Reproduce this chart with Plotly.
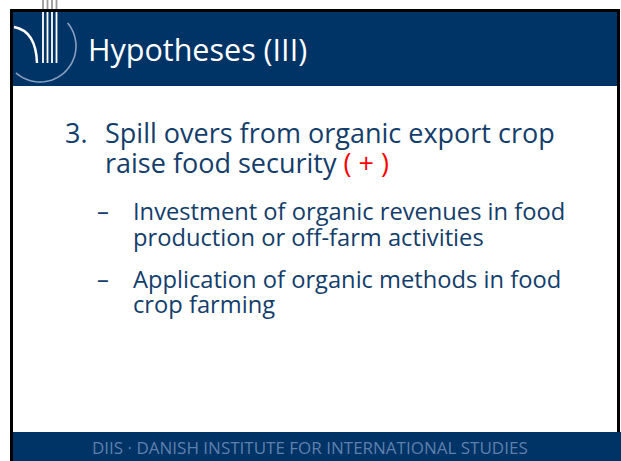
import numpy as np
import plotly.graph_objects as go

# ---- slide content ----
title_text = "Hypotheses (III)"
main_number = "3."
main_lines = ["Spill overs from organic export crop",
              "raise food security <span style='color:#ff0000'>( + )</span>"]
sub_bullet = "–"
sub_items = [["Investment of organic revenues in food",
              "production or off-farm activities"],
             ["Application of organic methods in food",
              "crop farming"]]
footer_text = "DIIS · DANISH INSTITUTE FOR INTERNATIONAL STUDIES"

# ---- style ----
W, H = 621, 461
NAVY = "#003366"
TEXT = "#133d6b"
FOOT = "#5f80ad"
FONT = "Open Sans"
MAIN_SIZE = 27
SUB_SIZE = 23.7
TITLE_SIZE = 30.5

fig = go.Figure()
shapes = []
ann = []

def rect(x0, y0, x1, y1, color):
    shapes.append(dict(type="rect", xref="x", yref="y", x0=x0, y0=y0, x1=x1, y1=y1,
                       fillcolor=color, line=dict(width=0), layer="below"))

# frame and bands
rect(13, 12, 617, 86, NAVY)
rect(13, 432, 621, 461, NAVY)
rect(10, 9, 620, 12, "#000000")
rect(10, 9, 13, 461, "#000000")
rect(617, 9, 620, 432, "#000000")

# logo: arc
th = np.radians(np.linspace(-40, 132, 40))
cx, cy, r = 40, 46, 36
pts = [(cx + r * np.cos(t), cy + r * np.sin(t)) for t in th]
pts = [(max(x, 13.5), y) for x, y in pts]
path = "M " + " L ".join(f"{x:.1f},{y:.1f}" for x, y in pts)
shapes.append(dict(type="path", xref="x", yref="y", path=path,
                   line=dict(color="rgba(160,180,210,0.85)", width=1.6)))
# inner white curve
shapes.append(dict(type="path", xref="x", yref="y", path="M 14,27 Q 36,31 37,63",
                   line=dict(color="white", width=2.5)))
# vertical strokes
for lx in [43, 47.5, 52, 56.5]:
    shapes.append(dict(type="line", xref="x", yref="y", x0=lx, x1=lx, y0=12, y1=63,
                       line=dict(color="white", width=1.8)))
    shapes.append(dict(type="line", xref="x", yref="y", x0=lx, x1=lx, y0=0, y1=9,
                       line=dict(color="#9a9a9a", width=1.8)))

def text(x, y, s, size, color, anchor="left", family=FONT):
    ann.append(dict(x=x, y=y, xref="x", yref="y", text=s, showarrow=False,
                    xanchor=anchor, yanchor="middle", borderpad=0,
                    font=dict(family=family, size=size, color=color)))

def base(b, size):
    return b - 0.388 * size

# title
text(87, base(61, TITLE_SIZE), title_text, TITLE_SIZE, "white")

# main bullet
text(64, base(143, MAIN_SIZE), main_number, MAIN_SIZE, TEXT)
for b, line in zip([143, 173], main_lines):
    text(104, base(b, MAIN_SIZE), line, MAIN_SIZE, TEXT)

# sub bullets
sub_bases = [[220, 246], [288, 313]]
for item, bases in zip(sub_items, sub_bases):
    text(96, base(bases[0], SUB_SIZE), sub_bullet, SUB_SIZE, TEXT)
    for b, line in zip(bases, item):
        text(132, base(b, SUB_SIZE), line, SUB_SIZE, TEXT)

# footer
text(310, 447.5, footer_text, 17, FOOT, anchor="center")

fig.update_layout(width=W, height=H, margin=dict(l=0, r=0, t=0, b=0),
                  paper_bgcolor="white", plot_bgcolor="white",
                  xaxis=dict(range=[0, W], visible=False, fixedrange=True),
                  yaxis=dict(range=[H, 0], visible=False, fixedrange=True),
                  shapes=shapes, annotations=ann, showlegend=False)
fig.write_html("out.html", config={"displayModeBar": False},
               post_script="document.body.style.margin='0';document.body.style.overflow='hidden';")
